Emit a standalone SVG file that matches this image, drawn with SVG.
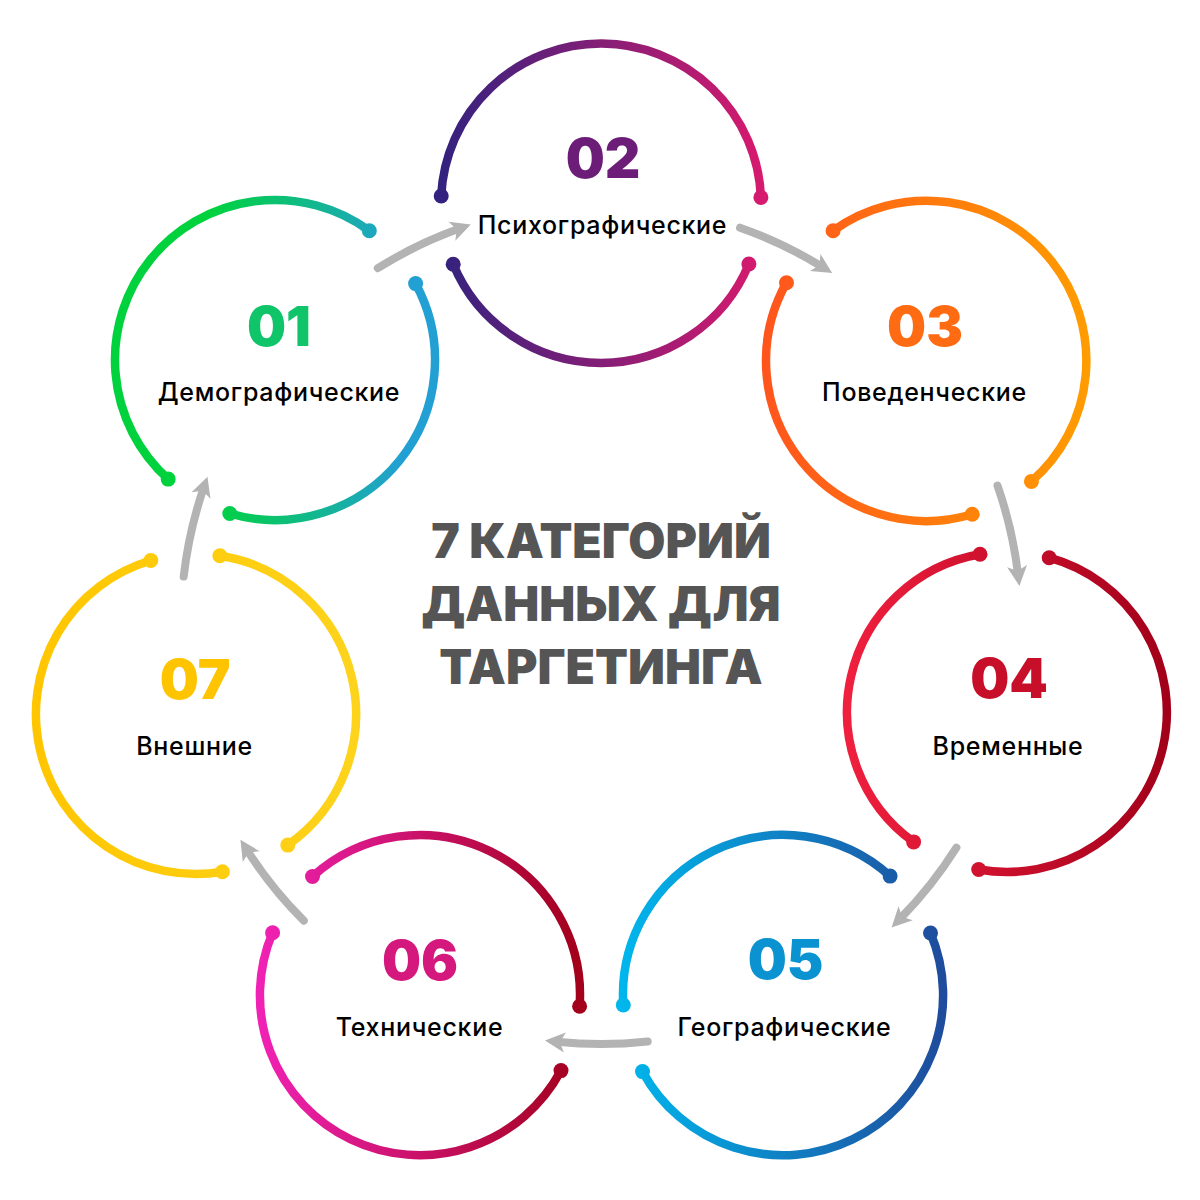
<svg xmlns="http://www.w3.org/2000/svg" width="1200" height="1200" viewBox="0 0 1200 1200">
<style>
.ring{fill:none;stroke-width:8.5;stroke-linecap:round}
.num{font-family:Inter,"Noto Sans",sans-serif;font-weight:900;font-size:55px;text-anchor:middle}
.lbl{font-family:Inter,"Noto Sans",sans-serif;font-weight:500;font-size:25px;letter-spacing:0.7px;fill:#000;text-anchor:middle}
.title{font-family:Inter,"Noto Sans",sans-serif;font-weight:900;font-size:48px;fill:#555;text-anchor:middle}
.arr{fill:none;stroke:#b3b3b3;stroke-width:8;stroke-linecap:round;marker-end:url(#ah)}
</style>
<defs>
<marker id="ah" markerUnits="userSpaceOnUse" viewBox="-10 -12 24 24" markerWidth="24" markerHeight="24" refX="0" refY="0" orient="auto">
<path d="M12,0 L-8,-10 L-3,0 L-8,10 Z" fill="#b3b3b3"/>
</marker>
<linearGradient id="g1" gradientUnits="userSpaceOnUse" x1="115" y1="0" x2="435" y2="0"><stop offset="0.3" stop-color="#00d23e"/><stop offset="0.9" stop-color="#22a0d4"/></linearGradient>
<linearGradient id="g2" gradientUnits="userSpaceOnUse" x1="441" y1="0" x2="761" y2="0"><stop offset="0" stop-color="#33227e"/><stop offset="1" stop-color="#d61a6e"/></linearGradient>
<linearGradient id="g3" gradientUnits="userSpaceOnUse" x1="766" y1="0" x2="1086" y2="0"><stop offset="0" stop-color="#ff551d"/><stop offset="1" stop-color="#ff9c00"/></linearGradient>
<linearGradient id="g4" gradientUnits="userSpaceOnUse" x1="847" y1="0" x2="1167" y2="0"><stop offset="0" stop-color="#f01f3e"/><stop offset="1" stop-color="#a2001a"/></linearGradient>
<linearGradient id="g5" gradientUnits="userSpaceOnUse" x1="623" y1="0" x2="943" y2="0"><stop offset="0" stop-color="#00b6ec"/><stop offset="1" stop-color="#1f4c9c"/></linearGradient>
<linearGradient id="g6" gradientUnits="userSpaceOnUse" x1="260" y1="0" x2="580" y2="0"><stop offset="0" stop-color="#f022b4"/><stop offset="1" stop-color="#a2001b"/></linearGradient>
<linearGradient id="g7" gradientUnits="userSpaceOnUse" x1="36" y1="0" x2="356" y2="0"><stop offset="0" stop-color="#ffc600"/><stop offset="1" stop-color="#fdd31c"/></linearGradient>
</defs>
<rect width="1200" height="1200" fill="#fff"/>

<g id="connectors">
<path class="arr" d="M377.8,268.2 A420,420 0 0 1 459.5,228.6"/>
<path class="arr" d="M740.0,227.7 A420,420 0 0 1 822.0,266.8"/>
<path class="arr" d="M997.5,485.6 A420,420 0 0 1 1018.0,574.1"/>
<path class="arr" d="M956.4,847.7 A420,420 0 0 1 900.0,918.9"/>
<path class="arr" d="M647.7,1041.4 A420,420 0 0 1 556.9,1041.7"/>
<path class="arr" d="M303.8,920.7 A420,420 0 0 1 246.9,849.9"/>
<path class="arr" d="M183.7,576.6 A420,420 0 0 1 203.6,488.0"/>
</g>

<g id="node01">
<path class="ring" stroke="url(#g1)" d="M168.2,479.1 A160,160 0 0 1 369.3,230.7"/>
<path class="ring" stroke="url(#g1)" d="M415.6,283.6 A160,160 0 0 1 229.8,513.5"/>
<g fill="url(#g1)"><circle cx="168.2" cy="479.1" r="7.5"/><circle cx="369.3" cy="230.7" r="7.5"/><circle cx="415.6" cy="283.6" r="7.5"/><circle cx="229.8" cy="513.5" r="7.5"/></g>
<text class="num" x="279" y="346" fill="#10c46a">01</text>
<text class="lbl" x="279" y="401">Демографические</text>
</g>

<g id="node02">
<path class="ring" stroke="url(#g2)" d="M441.2,196.0 A160,160 0 0 1 760.9,197.4"/>
<path class="ring" stroke="url(#g2)" d="M748.9,264.0 A160,160 0 0 1 453.2,264.2"/>
<g fill="url(#g2)"><circle cx="441.2" cy="196.0" r="7.5"/><circle cx="760.9" cy="197.4" r="7.5"/><circle cx="748.9" cy="264.0" r="7.5"/><circle cx="453.2" cy="264.2" r="7.5"/></g>
<text class="num" x="603" y="178" fill="#6b1d78">02</text>
<text class="lbl" x="602.5" y="234">Психографические</text>
</g>

<g id="node03">
<path class="ring" stroke="url(#g3)" d="M833.1,230.7 A160,160 0 0 1 1031.4,481.4"/>
<path class="ring" stroke="url(#g3)" d="M972.2,514.2 A160,160 0 0 1 786.5,282.7"/>
<g fill="url(#g3)"><circle cx="833.1" cy="230.7" r="7.5"/><circle cx="1031.4" cy="481.4" r="7.5"/><circle cx="972.2" cy="514.2" r="7.5"/><circle cx="786.5" cy="282.7" r="7.5"/></g>
<text class="num" x="925" y="346" fill="#ff6b12">03</text>
<text class="lbl" x="924.5" y="401">Поведенческие</text>
</g>

<g id="node04">
<path class="ring" stroke="url(#g4)" d="M1049.2,557.7 A160,160 0 0 1 978.7,869.5"/>
<path class="ring" stroke="url(#g4)" d="M913.6,841.9 A160,160 0 0 1 980.0,554.3"/>
<g fill="url(#g4)"><circle cx="1049.2" cy="557.7" r="7.5"/><circle cx="978.7" cy="869.5" r="7.5"/><circle cx="913.6" cy="841.9" r="7.5"/><circle cx="980.0" cy="554.3" r="7.5"/></g>
<text class="num" x="1009" y="698" fill="#c80f2a">04</text>
<text class="lbl" x="1008" y="755">Временные</text>
</g>

<g id="node05">
<path class="ring" stroke="url(#g5)" d="M623.3,1005.0 A160,160 0 0 1 890.1,876.1"/>
<path class="ring" stroke="url(#g5)" d="M930.5,933.0 A160,160 0 0 1 642.5,1071.6"/>
<g fill="url(#g5)"><circle cx="623.3" cy="1005.0" r="7.5"/><circle cx="890.1" cy="876.1" r="7.5"/><circle cx="930.5" cy="933.0" r="7.5"/><circle cx="642.5" cy="1071.6" r="7.5"/></g>
<text class="num" x="785.5" y="979" fill="#0b92d1">05</text>
<text class="lbl" x="784.5" y="1036">Географические</text>
</g>

<g id="node06">
<path class="ring" stroke="url(#g6)" d="M312.5,876.5 A160,160 0 0 1 579.6,1006.2"/>
<path class="ring" stroke="url(#g6)" d="M561.0,1070.6 A160,160 0 0 1 272.6,932.7"/>
<g fill="url(#g6)"><circle cx="312.5" cy="876.5" r="7.5"/><circle cx="579.6" cy="1006.2" r="7.5"/><circle cx="561.0" cy="1070.6" r="7.5"/><circle cx="272.6" cy="932.7" r="7.5"/></g>
<text class="num" x="420" y="980" fill="#d4187e">06</text>
<text class="lbl" x="419.5" y="1036">Технические</text>
</g>

<g id="node07">
<path class="ring" stroke="url(#g7)" d="M219.9,555.8 A160,160 0 0 1 287.8,845.1"/>
<path class="ring" stroke="url(#g7)" d="M222.4,871.8 A160,160 0 0 1 150.8,560.5"/>
<g fill="url(#g7)"><circle cx="219.9" cy="555.8" r="7.5"/><circle cx="287.8" cy="845.1" r="7.5"/><circle cx="222.4" cy="871.8" r="7.5"/><circle cx="150.8" cy="560.5" r="7.5"/></g>
<text class="num" x="195" y="699" fill="#ffc400">07</text>
<text class="lbl" x="194.5" y="755">Внешние</text>
</g>

<g id="title">
<text class="title" x="601" y="558">7 КАТЕГОРИЙ</text>
<text class="title" x="601" y="621">ДАННЫХ ДЛЯ</text>
<text class="title" x="601" y="684">ТАРГЕТИНГА</text>
</g>
</svg>
